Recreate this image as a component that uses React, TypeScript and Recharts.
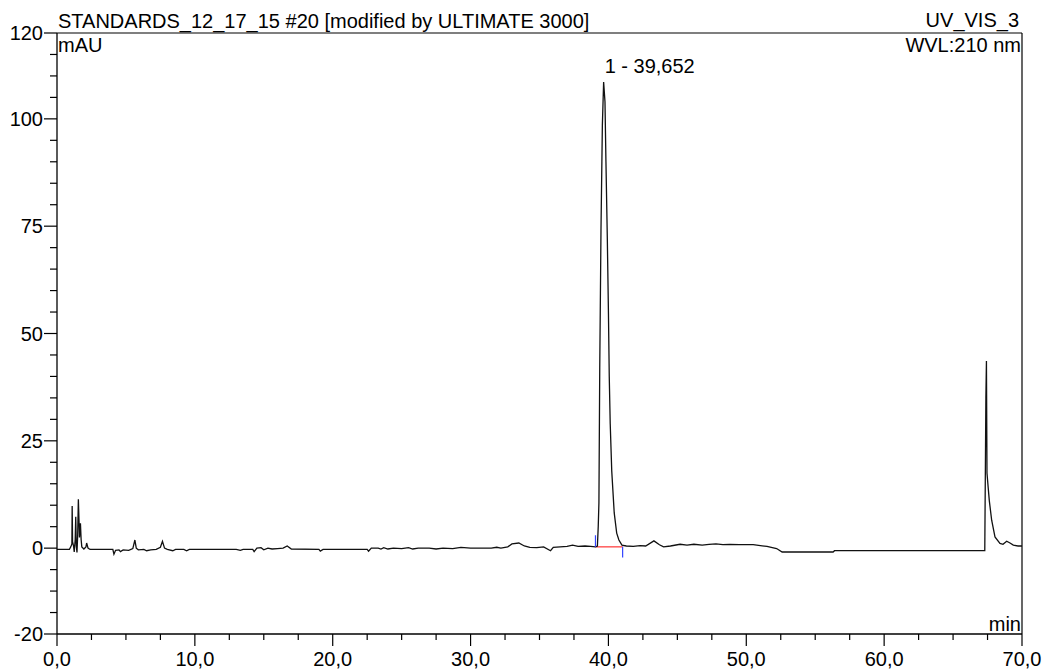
import React from "react";
import { LineChart, Line, XAxis, YAxis, ReferenceLine, ReferenceDot } from "recharts";

// Retention time (min) and absorbance (mAU)
const times: number[] = [
  0, 0.9, 1.0, 1.08, 1.1, 1.13, 1.2, 1.25, 1.32, 1.36, 1.4, 1.45, 1.5, 1.55, 1.6, 1.63, 1.7, 1.75, 1.8, 1.95,
  2.1, 2.15, 2.25, 2.4, 4.05, 4.13, 4.25, 4.5, 4.6, 4.8, 5.2, 5.5, 5.65, 5.75, 5.9, 6.3, 6.5, 6.8, 7.2, 7.5,
  7.65, 7.8, 8.0, 8.4, 8.6, 9.2, 9.4, 9.6, 10.0, 13.0, 13.3, 13.5, 14.2, 14.3, 14.5, 14.8, 15.0, 15.3, 15.6, 16.0,
  16.4, 16.7, 17.0, 19.0, 19.1, 19.3, 22.5, 22.6, 22.8, 23.3, 23.5, 23.7, 24.0, 24.4, 25.0, 25.5, 25.8, 26.2, 27.0, 27.5,
  28.0, 28.7, 29.3, 30.0, 31.5, 31.9, 32.2, 32.7, 33.0, 33.5, 33.9, 34.3, 34.8, 35.3, 35.8, 36.0, 36.5, 37.0, 37.4, 37.8,
  38.3, 38.7, 39.06, 39.2, 39.26, 39.31, 39.37, 39.46, 39.56, 39.652, 39.75, 39.82, 39.92, 40.0, 40.06, 40.13, 40.24, 40.42, 40.6, 40.76,
  40.98, 41.3, 41.8, 42.3, 42.7, 43.3, 43.7, 44.0, 44.5, 45.2, 45.7, 46.2, 46.8, 47.3, 47.8, 48.3, 48.8, 49.5, 50.5, 51.5,
  52.2, 52.6, 56.3, 56.4, 67.3, 67.38, 67.42, 67.46, 67.55, 67.63, 67.8, 68.04, 68.4, 68.62, 68.89, 69.13, 69.37, 69.71, 70.0,
];
const absorbance: number[] = [
  -0.3, -0.3, 0.3, 1.0, 9.8, 1.5, 0.5, -0.9, 2.0, 7.3, 0.5, -1.0, 3.0, 11.4, 6.0, 2.5, 5.8, 2.0, 0.3, -0.2,
  0.3, 1.2, 0.0, -0.3, -0.3, -1.4, -0.5, -0.4, -0.8, -0.4, -0.5, -0.1, 1.9, 0.0, -0.4, -0.3, -0.6, -0.4, -0.3, 0.2,
  1.6, 0.0, -0.3, -0.6, -0.3, -0.3, -0.6, -0.3, -0.3, -0.3, -0.5, -0.3, -0.3, -0.8, 0.0, 0.1, -0.4, 0.0, -0.2, -0.1,
  0.0, 0.5, -0.2, -0.3, -0.7, -0.3, -0.3, -0.7, 0.0, 0.0, -0.2, 0.1, -0.2, 0.0, -0.1, 0.1, -0.2, 0.0, 0.0, -0.2,
  0.0, -0.1, 0.2, 0.0, 0.0, 0.2, 0.0, 0.3, 1.0, 1.2, 0.5, 0.2, 0.1, 0.3, -0.6, 0.2, 0.3, 0.4, 0.7, 0.4,
  0.5, 0.4, 0.3, 0.5, 5.0, 10.5, 42.0, 74.0, 98.5, 108.6, 104.0, 90.0, 72.0, 55.0, 40.0, 29.0, 18.0, 8.2, 3.5, 1.9,
  0.7, 0.5, 0.4, 0.6, 0.5, 1.7, 0.8, 0.3, 0.5, 0.9, 0.7, 0.9, 0.7, 0.9, 1.0, 0.8, 0.9, 0.8, 0.8, 0.4,
  -0.1, -0.9, -0.9, -0.6, -0.6, 35.0, 43.6, 17.5, 14.0, 11.0, 6.5, 2.6, 1.1, 0.9, 1.6, 1.2, 0.7, 0.5, 0.5,
];

// Integrated peak
const peakTime = 39.652;
const peakHeight = 108.6;
const peakLabel = "1 - 39,652";
const baselineStart: [number, number] = [39.06, 0.3];
const baselineEnd: [number, number] = [41.03, 0.3];
const startMarkTop = 3.0;
const endMarkBottom = -2.2;

// Axis ticks
const xTicks: number[] = [];
for (let i = 0; i <= 28; i++) xTicks.push(i * 2.5);
const xMajor = [0, 10, 20, 30, 40, 50, 60, 70];
const yTicks: number[] = [];
for (let i = 0; i <= 28; i++) yTicks.push(-20 + i * 5);
const yMajor = [-20, 0, 25, 50, 75, 100, 120];

const titleLeft = "STANDARDS_12_17_15 #20 [modified by ULTIMATE 3000]";
const titleRight = "UV_VIS_3";
const unitY = "mAU";
const wavelength = "WVL:210 nm";
const unitX = "min";

const data = times.map((t, i) => ({ t, v: absorbance[i] }));

const FONT = "'Liberation Sans', Arial, sans-serif";
const FS = 20;

const fmtX = (v: number) => v.toFixed(1).replace(".", ",");

const XTick = (props: any) => {
  const { x, y, payload } = props;
  const major = xMajor.includes(payload.value);
  return (
    <g>
      <line x1={x} x2={x} y1={y} y2={y + (major ? 12 : 6)} stroke="#000" strokeWidth={1.2} />
      {major && (
        <text x={x} y={y + 32} textAnchor="middle" fontFamily={FONT} fontSize={FS} fill="#000">
          {fmtX(payload.value)}
        </text>
      )}
    </g>
  );
};

const YTick = (props: any) => {
  const { x, y, payload } = props;
  const major = yMajor.includes(payload.value);
  return (
    <g>
      <line x1={x - (major ? 13 : 7)} x2={x} y1={y} y2={y} stroke="#000" strokeWidth={1.2} />
      {major && (
        <text x={x - 14} y={y + 7} textAnchor="end" fontFamily={FONT} fontSize={FS} fill="#000">
          {payload.value}
        </text>
      )}
    </g>
  );
};

const PeakLabel = (props: any) => {
  const vb = props.viewBox || {};
  return (
    <text x={vb.x + 1} y={vb.y - 9} fontFamily={FONT} fontSize={FS} fill="#000">
      {peakLabel}
    </text>
  );
};

export default function App() {
  return (
    <div style={{ position: "absolute", left: 0, top: 0, width: 1047, height: 672, background: "#fff" }}>
      <LineChart width={1047} height={672} data={data} margin={{ top: 33, right: 25, bottom: 0, left: 0 }}>
        <XAxis
          type="number"
          dataKey="t"
          domain={[0, 70]}
          ticks={xTicks}
          interval={0}
          tickLine={false}
          tickSize={0}
          tickMargin={0}
          tick={<XTick />}
          height={38}
          axisLine={{ stroke: "#000", strokeWidth: 1.3 }}
          allowDataOverflow
        />
        <YAxis
          type="number"
          domain={[-20, 120]}
          ticks={yTicks}
          interval={0}
          tickLine={false}
          tickSize={0}
          tickMargin={0}
          tick={<YTick />}
          width={57}
          axisLine={{ stroke: "#000", strokeWidth: 1.3 }}
          allowDataOverflow
        />
        <ReferenceLine y={120} stroke="#000" strokeWidth={1.2} />
        <ReferenceLine x={70} stroke="#000" strokeWidth={1.2} />
        <ReferenceLine
          segment={[
            { x: baselineStart[0], y: baselineStart[1] },
            { x: baselineEnd[0], y: baselineEnd[1] },
          ]}
          stroke="#ff3333"
          strokeWidth={1.2}
        />
        <Line
          type="linear"
          dataKey="v"
          stroke="#111"
          strokeWidth={1.3}
          dot={false}
          isAnimationActive={false}
        />
        <ReferenceLine
          segment={[
            { x: baselineStart[0], y: baselineStart[1] },
            { x: baselineStart[0], y: startMarkTop },
          ]}
          stroke="#3344ff"
          strokeWidth={1.2}
        />
        <ReferenceLine
          segment={[
            { x: baselineEnd[0], y: baselineEnd[1] },
            { x: baselineEnd[0], y: endMarkBottom },
          ]}
          stroke="#3344ff"
          strokeWidth={1.2}
        />
        <ReferenceDot x={peakTime} y={peakHeight} r={0} stroke="none" fill="none" label={<PeakLabel />} />
      </LineChart>
      <svg width={1047} height={672} style={{ position: "absolute", left: 0, top: 0, pointerEvents: "none" }}>
        <text x={58} y={28} fontFamily={FONT} fontSize={FS} fill="#000">{titleLeft}</text>
        <text x={1019} y={27} textAnchor="end" fontFamily={FONT} fontSize={FS} fill="#000">{titleRight}</text>
        <text x={58} y={52} fontFamily={FONT} fontSize={FS} fill="#000">{unitY}</text>
        <text x={1021} y={52} textAnchor="end" fontFamily={FONT} fontSize={FS} fill="#000">{wavelength}</text>
        <text x={1021} y={631} textAnchor="end" fontFamily={FONT} fontSize={FS} fill="#000">{unitX}</text>
      </svg>
    </div>
  );
}
